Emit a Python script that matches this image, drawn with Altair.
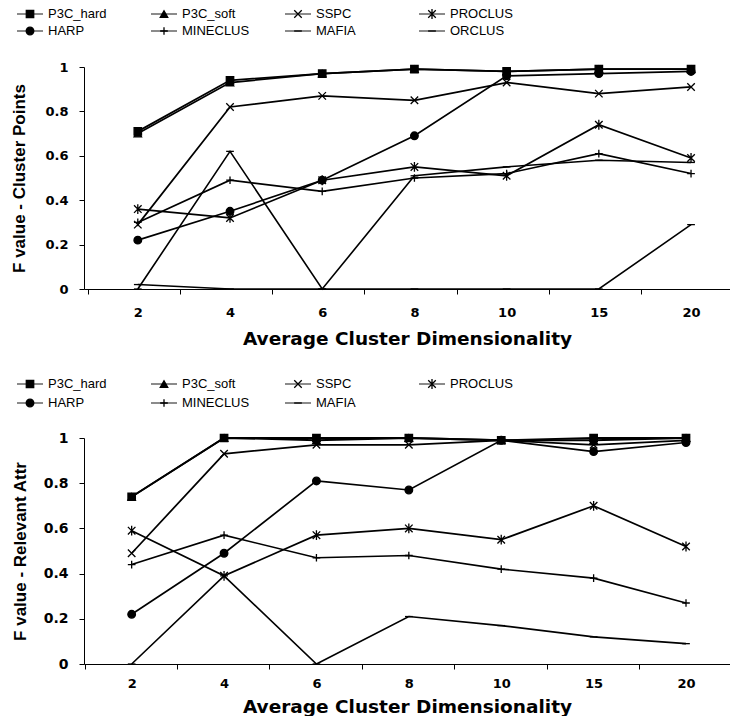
import altair as alt
import pandas as pd

# Average cluster dimensionality (x categories)
dims = ["2", "4", "6", "8", "10", "15", "20"]

methods = ["P3C_hard", "P3C_soft", "SSPC", "PROCLUS", "HARP", "MINECLUS", "MAFIA", "ORCLUS"]

# F value - cluster points
pts_p3c_hard = [0.71, 0.94, 0.97, 0.99, 0.98, 0.99, 0.99]
pts_p3c_soft = [0.70, 0.93, 0.97, 0.99, 0.98, 0.99, 0.99]
pts_sspc = [0.29, 0.82, 0.87, 0.85, 0.93, 0.88, 0.91]
pts_proclus = [0.36, 0.32, 0.49, 0.55, 0.51, 0.74, 0.59]
pts_harp = [0.22, 0.35, 0.49, 0.69, 0.96, 0.97, 0.98]
pts_mineclus = [0.30, 0.49, 0.44, 0.50, 0.52, 0.61, 0.52]
pts_mafia = [0.00, 0.62, 0.00, 0.51, 0.55, 0.58, 0.57]
pts_orclus = [0.02, 0.00, 0.00, 0.00, 0.00, 0.00, 0.29]

# F value - relevant attributes
attr_p3c_hard = [0.74, 1.00, 1.00, 1.00, 0.99, 1.00, 1.00]
attr_p3c_soft = [0.74, 1.00, 0.99, 1.00, 0.99, 0.99, 1.00]
attr_sspc = [0.49, 0.93, 0.97, 0.97, 0.99, 0.97, 0.99]
attr_proclus = [0.59, 0.39, 0.57, 0.60, 0.55, 0.70, 0.52]
attr_harp = [0.22, 0.49, 0.81, 0.77, 0.99, 0.94, 0.98]
attr_mineclus = [0.44, 0.57, 0.47, 0.48, 0.42, 0.38, 0.27]
attr_mafia = [0.00, 0.39, 0.00, 0.21, 0.17, 0.12, 0.09]

top_series = {
    "P3C_hard": pts_p3c_hard, "P3C_soft": pts_p3c_soft, "SSPC": pts_sspc,
    "PROCLUS": pts_proclus, "HARP": pts_harp, "MINECLUS": pts_mineclus,
    "MAFIA": pts_mafia, "ORCLUS": pts_orclus,
}
bottom_series = {
    "P3C_hard": attr_p3c_hard, "P3C_soft": attr_p3c_soft, "SSPC": attr_sspc,
    "PROCLUS": attr_proclus, "HARP": attr_harp, "MINECLUS": attr_mineclus,
    "MAFIA": attr_mafia,
}

# marker glyphs per method
shape_range = [
    "square",
    "triangle-up",
    "M-1,-1L1,1M-1,1L1,-1",
    "M-1,-1L1,1M-1,1L1,-1M0,-1.3L0,1.3",
    "circle",
    "M-1,0L1,0M0,-1L0,1",
    "M-1,0L1,0",
    "M-1,0L1,0",
]
size_range = [55, 60, 70, 70, 40, 70, 30, 60]
width_range = [1.8, 1.6, 1.1, 1.5, 1.1, 1.4, 1.8, 1.5]

shape_enc = alt.Shape("series:N", scale=alt.Scale(domain=methods, range=shape_range), legend=None)
size_enc = alt.Size("series:N", scale=alt.Scale(domain=methods, range=size_range), legend=None)
sw_enc = alt.StrokeWidth("series:N", scale=alt.Scale(domain=methods, range=width_range), legend=None)

PLOT_W = 646


def long_table(series):
    rows = []
    for name, vals in series.items():
        for d, v in zip(dims, vals):
            rows.append({"series": name, "dim": d, "value": v})
    return pd.DataFrame(rows)


def legend_block(names, height, rows):
    ldf = pd.DataFrame({
        "series": names,
        "col": [i % 4 for i in range(len(names))],
        "row": [i // 4 for i in range(len(names))],
    })
    base = alt.Chart(ldf).encode(
        x=alt.X("col:Q", scale=alt.Scale(domain=[0, 3], range=[-54, 348]), axis=None),
        y=alt.Y("row:Q", scale=alt.Scale(domain=[0, 1], range=rows), axis=None),
    )
    line = base.mark_tick(orient="horizontal", size=26, thickness=1.3, color="black")
    sym = base.mark_point(filled=True, fill="black", stroke="black", strokeWidth=1.3, opacity=1).encode(
        shape=shape_enc, size=size_enc)
    txt = base.mark_text(align="left", baseline="middle", dx=18, font="Liberation Sans",
                         fontSize=13, color="black").encode(text="series:N")
    return alt.layer(line, sym, txt).properties(width=PLOT_W, height=height)


def panel(series, ytitle, height, pad, align, tick_off, ylab_size, ytitle_pad, xtitle_pad, xlab_pad):
    df = long_table(series)
    x = alt.X("dim:N", sort=dims,
              scale=alt.Scale(type="point", padding=pad, align=align),
              axis=alt.Axis(title="Average Cluster Dimensionality", labelAngle=0,
                            tickOffset=tick_off, labelOffset=-tick_off,
                            labelPadding=xlab_pad, titlePadding=xtitle_pad,
                            titleFont="DejaVu Sans", titleFontSize=18.5))
    y = alt.Y("value:Q", scale=alt.Scale(domain=[0, 1], nice=False, zero=True),
              axis=alt.Axis(title=ytitle, values=[0, 0.2, 0.4, 0.6, 0.8, 1], format="~g",
                            labelPadding=11, titlePadding=ytitle_pad,
                            labelFontSize=ylab_size,
                            titleFont="Liberation Sans", titleFontSize=17))
    base = alt.Chart(df).encode(x=x, y=y)
    lines = base.mark_line(color="black").encode(detail="series:N", strokeWidth=sw_enc)
    marks = base.mark_point(filled=True, fill="black", stroke="black", strokeWidth=1.3, opacity=1).encode(
        shape=shape_enc, size=size_enc)
    return alt.layer(lines, marks).properties(width=PLOT_W, height=height)


top_legend = legend_block(methods, 40, [14, 31])
top_panel = panel(top_series, "F value - Cluster Points", 222, 0.503, 0.58, -50, 13, 16, 10, 12)
bottom_legend = legend_block(list(bottom_series.keys()), 38, [15, 34])
bottom_panel = panel(bottom_series, "F value - Relevant Attr", 226, 0.496, 0.52, -47, 14, 14, 7, 8)

chart = alt.concat(
    top_legend, top_panel, bottom_legend, bottom_panel,
    columns=1, spacing=21,
).resolve_scale(x="independent", y="independent").properties(
    padding={"left": 10, "top": 0, "right": 0, "bottom": 0}, background="white"
).configure_view(strokeOpacity=0).configure_axis(
    grid=False, domainColor="black", domainWidth=1, tickColor="black", tickSize=5, tickWidth=1,
    labelFont="DejaVu Sans", labelFontWeight="bold", labelFontSize=13, labelColor="black",
    titleFontWeight="bold", titleColor="black",
)

chart.save("out.html", embed_options={"renderer": "svg", "actions": False})
